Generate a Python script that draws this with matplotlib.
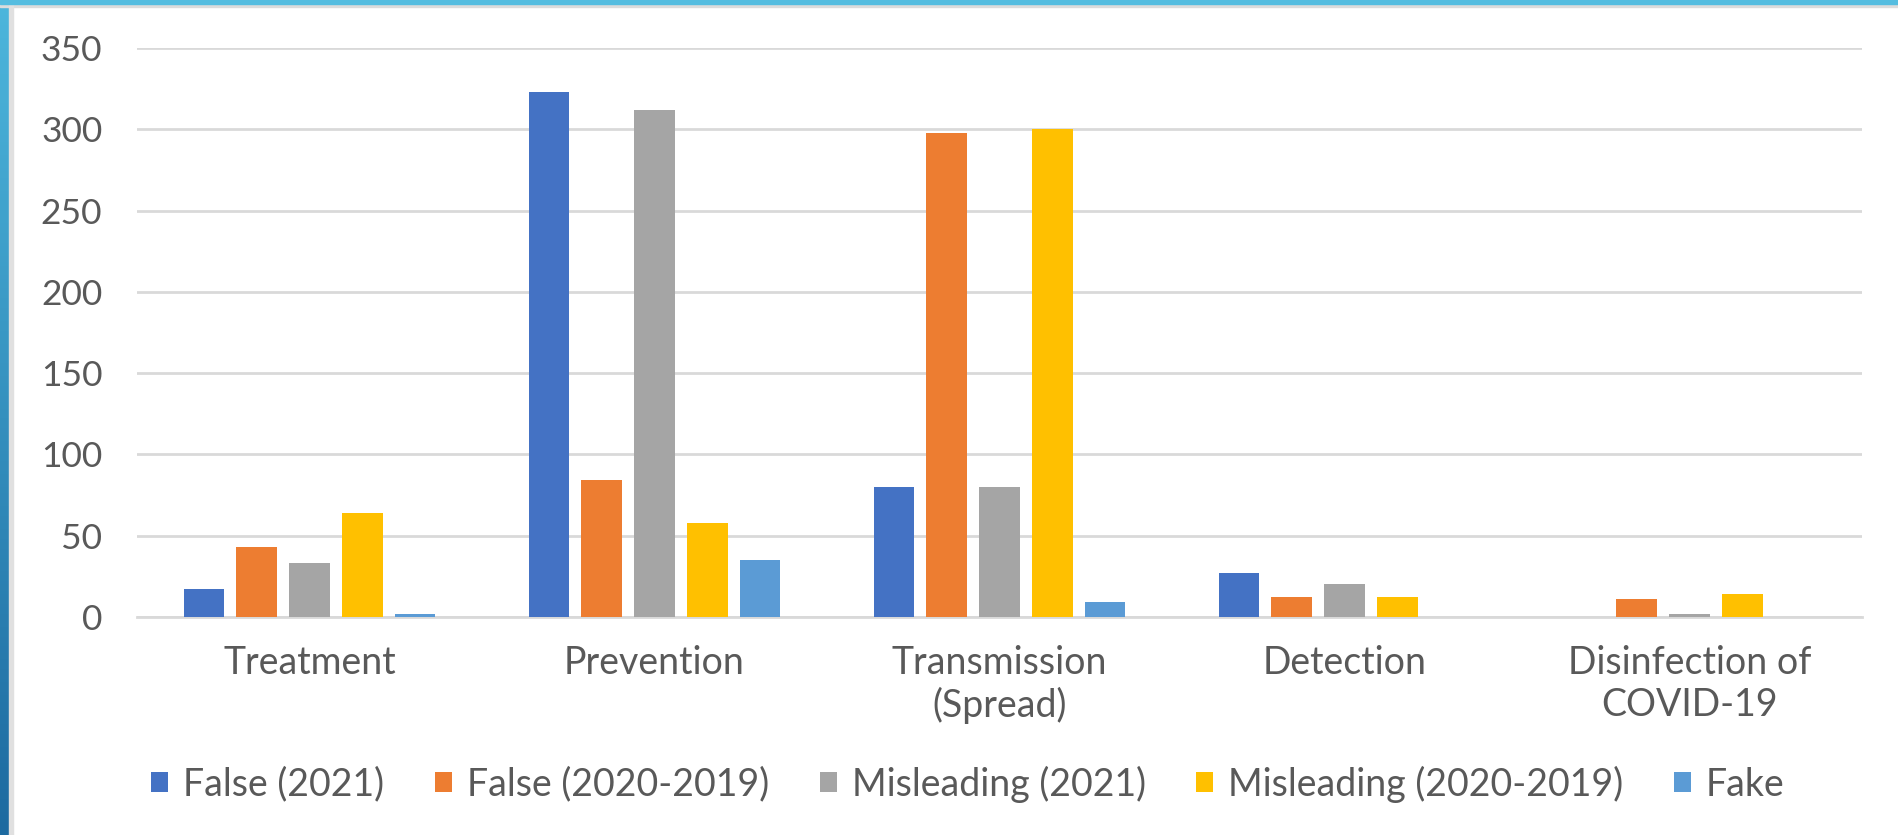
import numpy as np
import matplotlib
matplotlib.use("Agg")
import matplotlib.pyplot as plt
from matplotlib.patches import Rectangle

categories = ["Treatment", "Prevention", "Transmission\n(Spread)", "Detection",
              "Disinfection of\nCOVID-19"]
series_names = ["False (2021)", "False (2020-2019)", "Misleading (2021)",
                "Misleading (2020-2019)", "Fake"]
false_2021 = [17, 323, 80, 27, 0]
false_2020_2019 = [43, 84, 298, 12, 11]
misleading_2021 = [33, 312, 80, 20, 2]
misleading_2020_2019 = [64, 58, 300, 12, 14]
fake = [2, 35, 9, 0, 0]
y_ticks = [0, 50, 100, 150, 200, 250, 300, 350]

colors = ["#4472C4", "#ED7D31", "#A5A5A5", "#FFC000", "#5B9BD5"]
text_color = "#595959"
font = ["Lato", "DejaVu Sans"]
plt.rcParams["font.family"] = font

fig = plt.figure(figsize=(18.98, 8.35), dpi=100)
ax = fig.add_axes([137 / 1898, 1 - 617 / 835, (1862 - 137) / 1898, (617 - 48) / 835])

x = np.arange(len(categories))
width = 0.118
step = 0.153
all_series = [false_2021, false_2020_2019, misleading_2021, misleading_2020_2019, fake]
for i, (vals, name, c) in enumerate(zip(all_series, series_names, colors)):
    ax.bar(x + (i - 2) * step, vals, width, color=c, label=name, zorder=3)

ax.set_xlim(-0.5, len(categories) - 0.5)
ax.set_ylim(0, 350)
ax.set_yticks(y_ticks)
ax.set_xticks(x)
ax.set_xticklabels(categories, linespacing=1.2, fontsize=27)
ax.yaxis.grid(True, color="#d9d9d9", linewidth=2, zorder=0)
ax.set_axisbelow(True)
for s in ax.spines.values():
    s.set_visible(False)
ax.tick_params(axis="both", length=0, colors=text_color)
ax.tick_params(axis="y", pad=25, labelsize=25.5)
ax.tick_params(axis="x", pad=20)
ax.axhline(0, color="#d9d9d9", linewidth=2, zorder=2, clip_on=False)

leg = fig.legend(loc="center", bbox_to_anchor=(968 / 1898, 1 - 784 / 835), ncol=5,
                 frameon=False, fontsize=27, handlelength=0.45, handleheight=0.45,
                 handletextpad=0.4, columnspacing=1.35)
for t in leg.get_texts():
    t.set_color(text_color)

# blue frame on top and left
fig.patches.append(Rectangle((0, 1 - 7 / 835), 1, 7 / 835, transform=fig.transFigure,
                             color="#dcdcdc", zorder=0))
fig.patches.append(Rectangle((0, 1 - 4 / 835), 1, 4 / 835, transform=fig.transFigure,
                             color="#55bde0", zorder=1))
grad = np.linspace(0, 1, 256).reshape(-1, 1)
fig.patches.append(Rectangle((9 / 1898, 0), 4 / 1898, 1, transform=fig.transFigure,
                             color="#e0e0e0", zorder=0))
gax = fig.add_axes([0, 0, 9 / 1898, 1 - 2 / 835])
gax.imshow(grad, aspect="auto", cmap=matplotlib.colors.LinearSegmentedColormap.from_list(
    "frame", ["#4db6dc", "#1d6aa0"]))
gax.axis("off")

fig.savefig("out.png", dpi=100)
